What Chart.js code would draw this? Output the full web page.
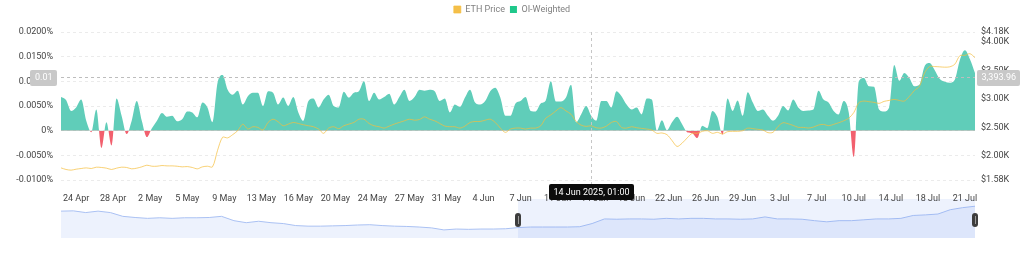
<!DOCTYPE html>
<html>
<head>
<meta charset="utf-8">
<script src="https://cdn.jsdelivr.net/npm/chart.js@4.4.1/dist/chart.umd.min.js"></script>
<style>
  html, body { margin: 0; padding: 0; background: #fff; }
  #wrap { position: relative; width: 1024px; height: 264px; overflow: hidden; }
  #nav { position: absolute; left: 57px; top: 197px; }
  #main { position: absolute; left: 0; top: 0; }
</style>
</head>
<body>
<div id="wrap">
  <canvas id="nav" width="922" height="45"></canvas>
  <canvas id="main" width="1024" height="264"></canvas>
</div>
<script>
// first point 22 Apr 2025 13:00, one point every 12 hours
const startTime = Date.UTC(2025, 3, 22, 13, 0);
const stepHours = 12;
const monthNames = ['Jan', 'Feb', 'Mar', 'Apr', 'May', 'Jun', 'Jul', 'Aug', 'Sep', 'Oct', 'Nov', 'Dec'];

// OI-weighted funding rate, in %
const fundingRate = [
  0.0068, 0.0062, 0.0040, 0.0047, 0.0063, 0.0020, -0.0003, 0.0043, -0.0035, 0.0017,
  -0.0030, 0.0065, 0.0030, -0.0007, 0.0020, 0.0060, 0.0020, -0.0013, 0.0005, 0.0020,
  0.0036, 0.0028, 0.0030, 0.0019, 0.0023, 0.0039, 0.0037, 0.0027, 0.0057, 0.0047,
  0.0017, 0.0097, 0.0113, 0.0083, 0.0073, 0.0081, 0.0053, 0.0070, 0.0077, 0.0077,
  0.0050, 0.0080, 0.0077, 0.0053, 0.0067, 0.0050, 0.0068, 0.0037, 0.0020, 0.0060,
  0.0065, 0.0047, 0.0063, 0.0073, 0.0050, 0.0047, 0.0079, 0.0067, 0.0077, 0.0080,
  0.0100, 0.0060, 0.0077, 0.0063, 0.0068, 0.0075, 0.0053, 0.0068, 0.0083, 0.0060,
  0.0068, 0.0083, 0.0081, 0.0083, 0.0080, 0.0060, 0.0065, 0.0037, 0.0053, 0.0048,
  0.0067, 0.0083, 0.0057, 0.0053, 0.0060, 0.0080, 0.0087, 0.0067, 0.0030, 0.0030,
  0.0055, 0.0060, 0.0068, 0.0040, 0.0039, 0.0055, 0.0061, 0.0100, 0.0059, 0.0059,
  0.0067, 0.0093, 0.0017, 0.0033, 0.0050, 0.0030, 0.0020, 0.0060, 0.0060, 0.0047,
  0.0080, 0.0070, 0.0053, 0.0043, 0.0047, 0.0033, 0.0065, 0.0063, 0.0000, 0.0021,
  0.0001, 0.0017, 0.0028, 0.0013, -0.0003, -0.0005, -0.0015, 0.0010, 0.0005, 0.0040,
  0.0027, -0.0008, 0.0065, 0.0040, 0.0061, 0.0030, 0.0078, 0.0057, 0.0040, 0.0043,
  0.0030, 0.0020, 0.0030, 0.0050, 0.0041, 0.0063, 0.0047, 0.0040, 0.0041, 0.0043,
  0.0081, 0.0063, 0.0057, 0.0040, 0.0033, 0.0060, 0.0037, -0.0053, 0.0100, 0.0107,
  0.0090, 0.0089, 0.0043, 0.0039, 0.0047, 0.0133, 0.0101, 0.0117, 0.0107, 0.0090,
  0.0093, 0.0130, 0.0137, 0.0123, 0.0105, 0.0099, 0.0097, 0.0103, 0.0143, 0.0163,
  0.0145, 0.0117
];

// ETH price, USD
const ethPrice = [
  1793, 1765, 1753, 1770, 1782, 1793, 1782, 1805, 1800, 1788,
  1765, 1788, 1805, 1800, 1776, 1788, 1811, 1840, 1822, 1822,
  1834, 1828, 1828, 1822, 1811, 1816, 1800, 1776, 1811, 1822,
  1811, 2100, 2331, 2320, 2377, 2447, 2562, 2475, 2516, 2504,
  2458, 2591, 2648, 2602, 2533, 2562, 2591, 2573, 2550, 2533,
  2516, 2475, 2400, 2492, 2516, 2481, 2533, 2562, 2591, 2648,
  2648, 2573, 2533, 2516, 2492, 2527, 2562, 2591, 2620, 2648,
  2631, 2643, 2689, 2648, 2620, 2573, 2527, 2516, 2516, 2492,
  2527, 2591, 2608, 2608, 2631, 2648, 2591, 2492, 2417, 2475,
  2492, 2492, 2475, 2492, 2492, 2533, 2666, 2723, 2793, 2851,
  2793, 2735, 2608, 2544, 2521, 2533, 2498, 2492, 2527, 2591,
  2608, 2504, 2492, 2516, 2498, 2487, 2475, 2458, 2400, 2406,
  2377, 2273, 2169, 2227, 2319, 2400, 2400, 2435, 2446, 2400,
  2417, 2388, 2429, 2435, 2435, 2446, 2492, 2482, 2470, 2458,
  2412, 2418, 2522, 2586, 2568, 2539, 2505, 2505, 2493, 2510,
  2545, 2557, 2534, 2557, 2586, 2620, 2666, 2765, 2938, 2967,
  2955, 2944, 2926, 2961, 2978, 2996, 2978, 2967, 3048, 3152,
  3227, 3458, 3573, 3573, 3568, 3562, 3568, 3614, 3764, 3770,
  3799, 3729
];

// x ticks: first one 36 h after the first point, then every 88 h
const tickDays = ['24 Apr', '28 Apr', '2 May', '5 May', '9 May', '13 May', '16 May', '20 May',
  '24 May', '27 May', '31 May', '4 Jun', '7 Jun', '11 Jun', '14 Jun', '18 Jun', '22 Jun',
  '26 Jun', '29 Jun', '3 Jul', '7 Jul', '10 Jul', '14 Jul', '18 Jul', '21 Jul'];
const firstTickHour = 36;
const tickEveryHours = 88;
const priceTicks = [1580, 2000, 2500, 3000, 3500, 4000, 4180];
const fundingMin = -0.01, fundingMax = 0.02, fundingStep = 0.005;

// overview strip under the chart (relative height)
const navOverview = [
  93, 94, 88, 93, 88, 75, 71, 68, 70, 68, 70, 70, 71, 75, 60, 53, 58, 53, 50, 43,
  41, 41, 42, 43, 45, 46, 43, 41, 40, 38, 35, 28, 31, 30, 31, 31, 32, 36, 38, 38,
  38, 38, 39, 50, 66, 65, 66, 66, 65, 68, 66, 68, 68, 66, 66, 65, 66, 73, 66, 66,
  65, 60, 56, 60, 60, 63, 66, 66, 68, 78, 80, 83, 98, 105, 110
];
const navSelectFrom = 37;

// hovered point
const crossLabel = '14 Jun 2025, 01:00';
const crossFunding = 0.0108;
const crossPrice = 3393.96;

const pad2 = n => String(n).padStart(2, '0');
const hours = fundingRate.map((_, i) => i * stepHours);
const timeLabels = hours.map(h => {
  const d = new Date(startTime + h * 3600 * 1000);
  return `${d.getUTCDate()} ${monthNames[d.getUTCMonth()]} ${d.getUTCFullYear()}, ${pad2(d.getUTCHours())}:00`;
});

Chart.defaults.font.family = 'Roboto, sans-serif';
Chart.defaults.font.size = 9;

// extra room under the legend
const legendGap = {
  id: 'legendGap',
  beforeInit(chart) {
    const fit = chart.legend.fit;
    chart.legend.fit = function () {
      fit.bind(chart.legend)();
      this.height += 8;
    };
  }
};

function tag(ctx, text, x, y, align, bg, fg) {
  const w = ctx.measureText(text).width + 9;
  const h = 16;
  let left = x;
  if (align === 'right') left = x - w;
  if (align === 'center') left = x - w / 2;
  ctx.fillStyle = bg;
  ctx.beginPath();
  ctx.roundRect(Math.round(left), Math.round(y - h / 2), Math.round(w), h, 2);
  ctx.fill();
  ctx.fillStyle = fg;
  ctx.textAlign = 'center';
  ctx.textBaseline = 'middle';
  ctx.fillText(text, left + w / 2, y + 0.5);
}

const crosshair = {
  id: 'crosshair',
  afterDraw(chart) {
    const { ctx, chartArea: a, scales: { x, y } } = chart;
    const cx = Math.round(x.getPixelForValue(hours[timeLabels.indexOf(crossLabel)])) + 0.5;
    const cy = Math.round(y.getPixelForValue(crossFunding)) + 0.5;
    ctx.save();
    ctx.lineWidth = 1;
    ctx.setLineDash([3, 3]);
    ctx.strokeStyle = '#c6c6c6';
    ctx.beginPath();
    ctx.moveTo(cx, a.top);
    ctx.lineTo(cx, a.bottom + 4);
    ctx.stroke();
    ctx.strokeStyle = '#bdbdbd';
    ctx.beginPath();
    ctx.moveTo(a.left, cy);
    ctx.lineTo(a.right, cy);
    ctx.stroke();
    ctx.setLineDash([]);
    ctx.font = '9px Roboto, sans-serif';
    tag(ctx, crossFunding.toFixed(2), a.left - 4, cy, 'right', '#c8c8c8', '#fff');
    tag(ctx, crossPrice.toLocaleString('en-US', { minimumFractionDigits: 2 }), a.right + 2, cy, 'left', '#c8c8c8', '#fff');
    tag(ctx, crossLabel, cx, a.bottom + 12, 'center', '#0c0c0c', '#fff');
    ctx.restore();
  }
};

new Chart(document.getElementById('main'), {
  type: 'line',
  data: {
    labels: hours,
    datasets: [
      {
        label: 'ETH Price',
        data: ethPrice,
        yAxisID: 'y1',
        borderColor: 'rgba(245,190,60,0.7)',
        backgroundColor: '#f4bf4a',
        borderWidth: 1,
        pointRadius: 0,
        tension: 0.3,
        fill: false,
        order: 1
      },
      {
        label: 'OI-Weighted',
        data: fundingRate,
        yAxisID: 'y',
        borderColor: 'rgba(0,0,0,0)',
        backgroundColor: '#1fc88b',
        borderWidth: 0,
        pointRadius: 0,
        cubicInterpolationMode: 'monotone',
        fill: { target: 'origin', above: '#60cdb9', below: '#f2606e' },
        order: 2
      }
    ]
  },
  options: {
    responsive: false,
    animation: false,
    events: [],
    layout: { padding: 0 },
    plugins: {
      legend: {
        position: 'top',
        labels: { boxWidth: 7, boxHeight: 7, padding: 5, color: '#808080', font: { size: 9 } }
      },
      tooltip: { enabled: false }
    },
    scales: {
      x: {
        type: 'linear',
        min: hours[0],
        max: hours[hours.length - 1],
        grid: { display: false },
        border: { display: false },
        ticks: {
          autoSkip: false,
          maxRotation: 0,
          padding: 5,
          color: '#444',
          callback: (v, i) => tickDays[i]
        },
        afterBuildTicks(scale) {
          scale.ticks = tickDays.map((_, k) => ({ value: firstTickHour + k * tickEveryHours }));
        },
        afterFit(scale) { scale.height = 84; }
      },
      y: {
        position: 'left',
        min: fundingMin,
        max: fundingMax,
        grid: { color: '#ebebeb', drawTicks: false },
        border: { display: false, dash: [3, 3] },
        ticks: {
          stepSize: fundingStep,
          padding: 8,
          color: '#444',
          callback: v => Math.abs(v) < 1e-9 ? '0%' : v.toFixed(4) + '%'
        },
        afterFit(scale) { scale.width = 61; }
      },
      y1: {
        position: 'right',
        min: priceTicks[0],
        max: priceTicks[priceTicks.length - 1],
        grid: { display: false, drawTicks: false },
        border: { display: false },
        ticks: {
          padding: 6,
          color: '#444',
          callback: v => '$' + (v / 1000).toFixed(2) + 'K'
        },
        afterBuildTicks(scale) {
          scale.ticks = priceTicks.map(v => ({ value: v }));
        },
        afterFit(scale) { scale.width = 49; }
      }
    }
  },
  plugins: [legendGap, crosshair]
});

// overview strip with the selected window and its handles
const navWindow = {
  id: 'navWindow',
  afterDatasetsDraw(chart) {
    const { ctx, chartArea: a, scales: { x } } = chart;
    const sx = x.getPixelForValue(navSelectFrom);
    ctx.save();
    ctx.fillStyle = 'rgba(110,145,240,0.12)';
    ctx.fillRect(sx, a.top, a.right - sx, a.bottom - a.top);
    ctx.restore();
  },
  afterDraw(chart) {
    const { ctx, chartArea: a, scales: { x } } = chart;
    const mid = (a.top + a.bottom) / 2 + 1;
    [x.getPixelForValue(navSelectFrom), a.right].forEach(hx => {
      ctx.save();
      ctx.fillStyle = '#3d3d3d';
      ctx.beginPath();
      ctx.roundRect(Math.round(hx) - 3, Math.round(mid) - 7, 6, 14, 3);
      ctx.fill();
      ctx.strokeStyle = '#9a9a9a';
      ctx.lineWidth = 1;
      ctx.beginPath();
      ctx.moveTo(Math.round(hx) + 0.5, Math.round(mid) - 4);
      ctx.lineTo(Math.round(hx) + 0.5, Math.round(mid) + 4);
      ctx.stroke();
      ctx.restore();
    });
  }
};

new Chart(document.getElementById('nav'), {
  type: 'line',
  data: {
    labels: navOverview.map((_, i) => i),
    datasets: [{
      data: navOverview,
      borderColor: '#aac1f3',
      backgroundColor: 'rgba(110,145,240,0.12)',
      borderWidth: 1,
      pointRadius: 0,
      tension: 0,
      fill: 'origin'
    }]
  },
  options: {
    responsive: false,
    animation: false,
    events: [],
    layout: { padding: { left: 4, right: 4, top: 2, bottom: 4 } },
    plugins: { legend: { display: false }, tooltip: { enabled: false } },
    scales: {
      x: { type: 'linear', display: false, min: 0, max: navOverview.length - 1 },
      y: { display: false, min: 0, max: 135 }
    }
  },
  plugins: [navWindow]
});
</script>
</body>
</html>
